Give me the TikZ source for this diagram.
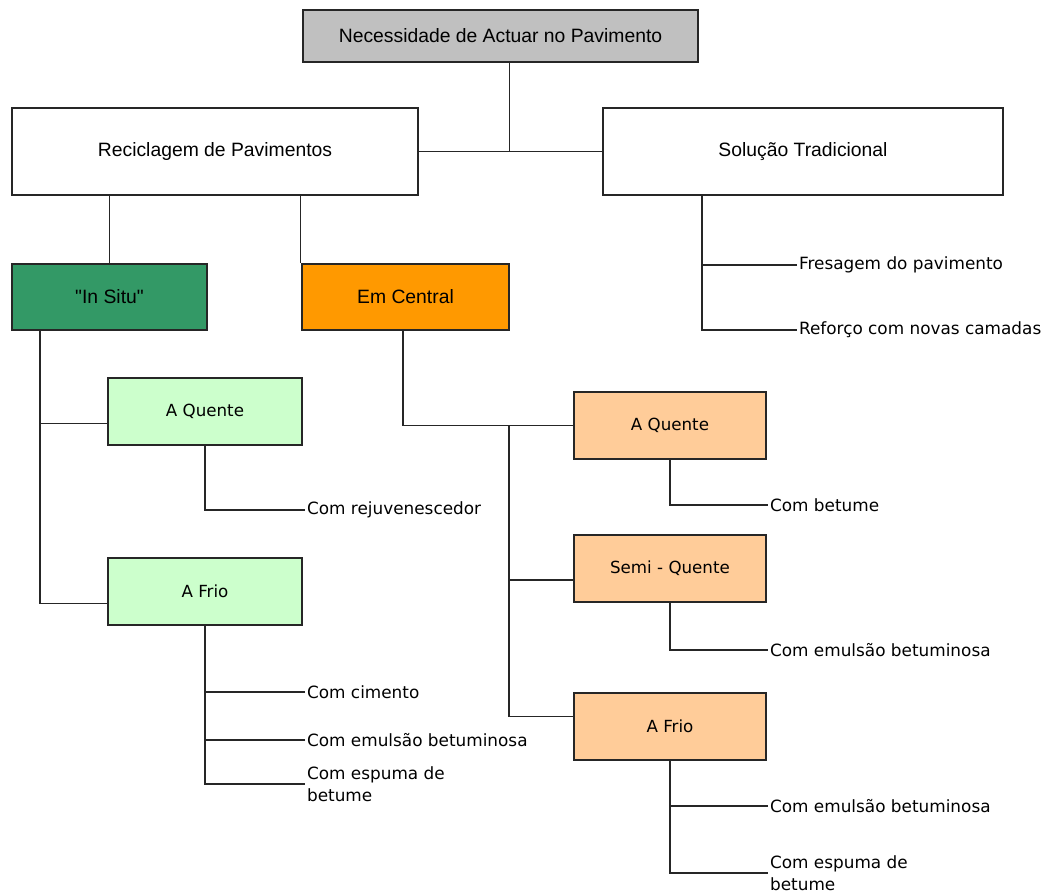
\documentclass[tikz,border=0pt]{standalone}
\usepackage{fontspec}
\setmainfont{Liberation Sans}
\newfontfamily\boxfont{Liberation Sans}
\newfontfamily\widefont{DejaVu Sans}
\usetikzlibrary{positioning}
\definecolor{boxgray}{HTML}{C0C0C0}
\definecolor{situgreen}{HTML}{339966}
\definecolor{centorange}{HTML}{FF9900}
\definecolor{lightgreen}{HTML}{CCFFCC}
\definecolor{lightorange}{HTML}{FFCC99}
\begin{document}
\begin{tikzpicture}[x=0.02cm,y=-0.02cm,
        box/.style={draw=black!85,line width=1.6pt,inner sep=0pt,font=\boxfont\fontsize{11}{13}\selectfont},
        subbox/.style={box,minimum width=3.84cm,minimum height=1.34cm,font=\widefont\fontsize{9.5}{11}\selectfont},
        leaf/.style={anchor=west,inner sep=1pt,align=left,font=\widefont\fontsize{9.6}{12.5}\selectfont},
        link/.style={draw=black!85,line width=0.8pt}]
            \useasboundingbox (0,0) rectangle (1059,892);
            % top level
            \node[box,fill=boxgray,minimum width=7.9cm,minimum height=1.04cm] (nec) at (500.5,36) {Necessidade de Actuar no Pavimento};
            \node[box,fill=white,minimum width=8.12cm,minimum height=1.74cm] (rec) at (215,151.5) {Reciclagem de Pavimentos};
            \node[box,fill=white,minimum width=8cm,minimum height=1.74cm] (sol) at (803,151.5) {Solução Tradicional};
            \draw[link] ([xshift=0.18cm]nec.south) -- ([xshift=0.18cm]nec.south |- rec.east)
                (rec.east) -- (sol.west);
            % solucao tradicional
            \coordinate (solb) at (702,330);
            \node[leaf] (fre) at (797,265) {Fresagem do pavimento};
            \node[leaf] (ref) at (797,330) {Reforço com novas camadas};
            \draw[link] (sol.south -| solb) |- (ref.west)
                (fre.west) -- (fre.west -| solb);
            % reciclagem
            \node[box,fill=situgreen,minimum width=3.9cm,minimum height=1.32cm] (situ) at (109.5,297) {"In Situ"};
            \node[box,fill=centorange,minimum width=4.14cm,minimum height=1.32cm] (cen) at (405.5,297) {Em Central};
            \draw[link] (situ.north) -- (situ.north |- rec.south)
                (cen.north west) -- (cen.north west |- rec.south);
            % in situ
            \node[subbox,fill=lightgreen,minimum width=3.88cm] (sq) at (205,411.5) {A Quente};
            \node[subbox,fill=lightgreen,minimum width=3.88cm] (sf) at (205,591.5) {A Frio};
            \coordinate (sj) at (40,604);
            \draw[link] (situ.south -| sj) |- ([yshift=-0.24cm]sf.west)
                ([yshift=-0.24cm]sq.west) -- ([yshift=-0.24cm]sq.west -| sj);
            \node[leaf] (rej) at (305,510) {Com rejuvenescedor};
            \draw[link] (sq.south) |- (rej.west);
            \node[leaf] (cim) at (305,692) {Com cimento};
            \node[leaf] (emu1) at (305,740) {Com emulsão betuminosa};
            \node[leaf] (esp1) at (305,784) {Com espuma de\\betume};
            \draw[link] (sf.south) |- (esp1.west)
                (cim.west) -- (cim.west -| sf.south)
                (emu1.west) -- (emu1.west -| sf.south);
            % em central
            \node[subbox,fill=lightorange] (cq) at (670,425.5) {A Quente};
            \node[subbox,fill=lightorange] (csq) at (670,568.5) {Semi - Quente};
            \node[subbox,fill=lightorange] (cf) at (670,726.5) {A Frio};
            \coordinate (cj) at (509,425.5);
            \draw[link] ([xshift=-0.05cm]cen.south) |- (cq.west)
                (cj) |- ([yshift=0.2cm]cf.west)
                ([yshift=-0.23cm]csq.west) -- ([yshift=-0.23cm]csq.west -| cj);
            \node[leaf] (bet) at (768,505) {Com betume};
            \node[leaf] (emu2) at (768,650) {Com emulsão betuminosa};
            \node[leaf] (emu3) at (768,806) {Com emulsão betuminosa};
            \node[leaf] (esp2) at (768,873) {Com espuma de\\betume};
            \draw[link] (cq.south) |- (bet.west)
                (csq.south) |- (emu2.west)
                (cf.south) |- (esp2.west)
                (emu3.west) -- (emu3.west -| cf.south);
\end{tikzpicture}
\end{document}
